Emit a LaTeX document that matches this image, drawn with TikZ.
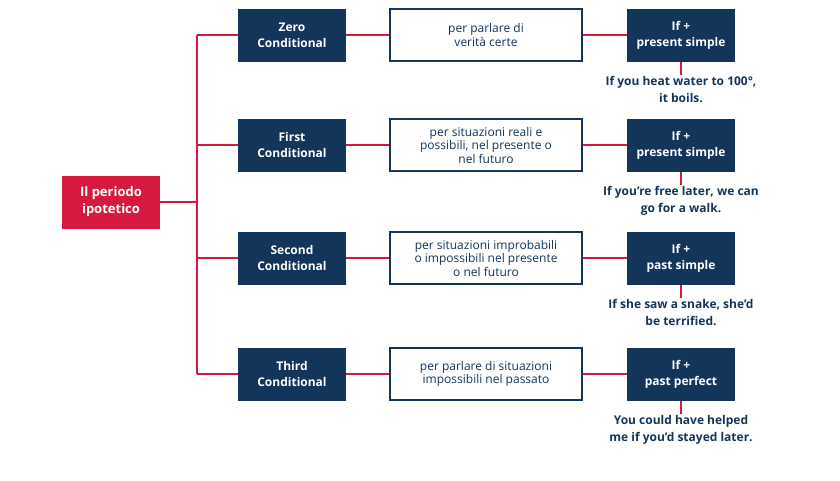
\documentclass[tikz,border=0pt]{standalone}
\usepackage{fontspec}
\setmainfont{Open Sans}
\definecolor{navy}{HTML}{14355A}
\definecolor{rred}{HTML}{D7193F}
\newcommand\myrow[6]{%
 \coordinate (b#1) at (197,#2);
 \node[dark] (c#1) at (292,#2) {#3};
 \node[mid] (m#1) at (486,#2) {#4};
 \node[dark] (f#1) at (681,#2) {#5};
 \node[ex,anchor=north] (e#1) at (681,#2+40) {#6};
 \draw[ln] (b#1) -- (c#1.west);
 \draw[ln] (c#1.east) -- (m#1.west);
 \draw[ln] (m#1.east) -- (f#1.west);
 \draw[ln] (f#1.south) -- (e#1.north);}
\begin{document}
\begin{tikzpicture}[x=1pt,y=-1pt,
 dark/.style={fill=navy,text=white,minimum width=108pt,minimum height=53pt,align=center,font=\fontsize{12}{16}\selectfont\bfseries},
 mid/.style={draw=navy,line width=1.6pt,fill=white,text=navy,minimum width=192pt,minimum height=52pt,align=center,font=\fontsize{12}{13.5}\selectfont},
 ex/.style={text=navy,align=center,inner sep=1pt,font=\fontsize{12}{17}\selectfont\bfseries},
 ln/.style={draw=rred,line width=2pt}]
\useasboundingbox (0,0) rectangle (840,480);
\node[fill=rred,text=white,minimum width=98pt,minimum height=53pt,align=center,font=\fontsize{13}{17}\selectfont\bfseries] (root) at (111,202) {Il periodo\\ipotetico};
\coordinate (t) at (197,202);
\myrow{1}{35}{Zero\\Conditional}{per parlare di\\verità certe}{If +\\present simple}{If you heat water to 100°,\\it boils.}
\myrow{2}{145}{First\\Conditional}{per situazioni reali e\\possibili, nel presente o\\nel futuro}{If +\\present simple}{If you’re free later, we can\\go for a walk.}
\myrow{3}{258}{Second\\Conditional}{per situazioni improbabili\\o impossibili nel presente\\o nel futuro}{If +\\past simple}{If she saw a snake, she’d\\be terrified.}
\myrow{4}{374}{Third\\Conditional}{per parlare di situazioni\\impossibili nel passato}{If +\\past perfect}{You could have helped\\me if you’d stayed later.}
\draw[ln] (b1) -- (b4);
\draw[ln] (root.east) -- (t);
\end{tikzpicture}
\end{document}
